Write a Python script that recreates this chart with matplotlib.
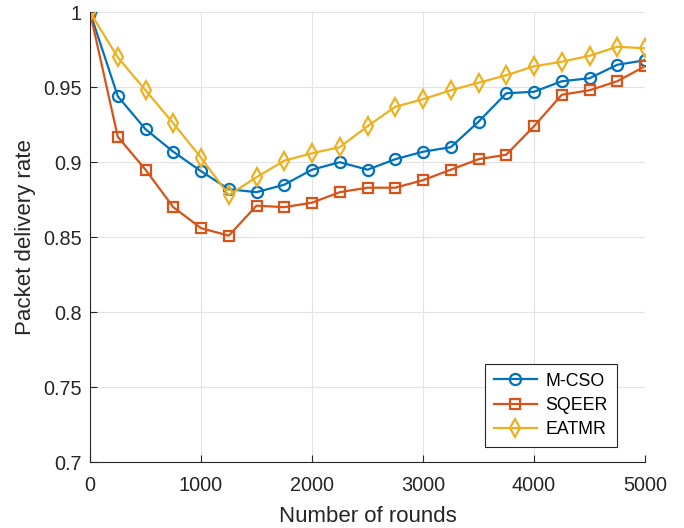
import matplotlib
matplotlib.use("Agg")
import matplotlib.pyplot as plt

plt.rcParams['font.family'] = ['Liberation Sans', 'DejaVu Sans']

rounds = list(range(0, 5001, 250))

mcso = [1.0, 0.944, 0.922, 0.907, 0.894, 0.882, 0.880, 0.885, 0.895, 0.900, 0.895,
        0.902, 0.907, 0.910, 0.927, 0.946, 0.947, 0.954, 0.956, 0.965, 0.968]
sqeer = [1.0, 0.917, 0.895, 0.870, 0.856, 0.851, 0.871, 0.870, 0.873, 0.880, 0.883,
         0.883, 0.888, 0.895, 0.902, 0.905, 0.924, 0.945, 0.948, 0.954, 0.964]
eatmr = [1.0, 0.970, 0.948, 0.926, 0.903, 0.878, 0.890, 0.901, 0.906, 0.910, 0.924,
         0.937, 0.942, 0.948, 0.953, 0.958, 0.964, 0.967, 0.971, 0.977, 0.976]

fig = plt.figure(figsize=(6.84, 5.28), dpi=100)
ax = fig.add_axes([0.1316, 0.125, 0.8114, 0.8517])

ax.plot(rounds, mcso, color='#0072BD', lw=1.6, marker='o', ms=8, mfc='none', mew=1.6, label='M-CSO')
ax.plot(rounds, sqeer, color='#D95319', lw=1.6, marker='s', ms=7, mfc='none', mew=1.6, label='SQEER')
ax.plot(rounds, eatmr, color='#EDB120', lw=1.6, marker='d', ms=9, mfc='none', mew=1.6, label='EATMR')

ax.set_xlim(0, 5000)
ax.set_ylim(0.7, 1.0)
ax.set_xticks(range(0, 5001, 1000))
ax.set_yticks([0.7, 0.75, 0.8, 0.85, 0.9, 0.95, 1.0])
ax.set_yticklabels(['0.7', '0.75', '0.8', '0.85', '0.9', '0.95', '1'])
ax.grid(True, color='#e3e3e3', lw=0.8)
ax.set_axisbelow(True)
ax.tick_params(direction='in', labelsize=14.3, length=5, color='#262626', labelcolor='#262626')
ax.tick_params(axis='x', pad=10)
ax.tick_params(axis='y', pad=6)
for s in ['top', 'right']:
    ax.spines[s].set_visible(False)
for s in ['left', 'bottom']:
    ax.spines[s].set_color('#262626')

ax.set_xlabel('Number of rounds', fontsize=16, color='#262626', labelpad=8)
ax.set_ylabel('Packet delivery rate', fontsize=16, color='#262626', labelpad=5)

leg = ax.legend(loc='lower right', bbox_to_anchor=(0.959, 0.022), fontsize=12.8, fancybox=False,
                edgecolor='#262626', framealpha=1, handlelength=2.4, handletextpad=0.5,
                borderpad=0.5, labelspacing=0.4, borderaxespad=0.3)
leg.get_frame().set_linewidth(0.8)

fig.savefig('out.png', dpi=100)
